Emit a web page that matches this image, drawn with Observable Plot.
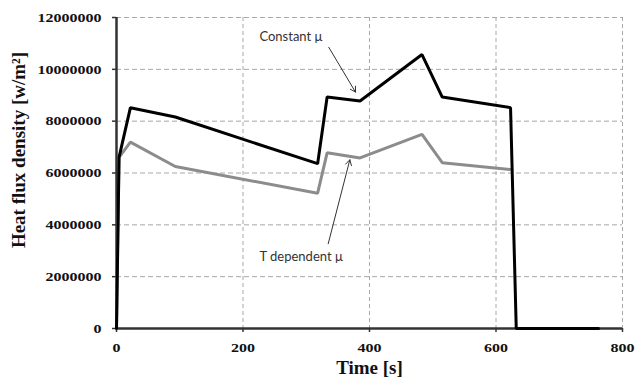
<!DOCTYPE html>
<html>
<head>
<meta charset="utf-8">
<script src="https://cdn.jsdelivr.net/npm/d3@7"></script>
<script src="https://cdn.jsdelivr.net/npm/@observablehq/plot@0.6"></script>
<style>
  html, body { margin: 0; padding: 0; background: #fff; }
  #chart { width: 636px; height: 378px; }
</style>
</head>
<body>
<div id="chart"></div>
<script>
// ---- data ----
const constantTime  = [0, 4, 22, 93, 318, 333, 385, 483, 515, 623, 632, 762];
const constantValue = [0, 6600000, 8520000, 8160000, 6360000, 8930000, 8780000, 10570000, 8930000, 8520000, 0, 0];

const tdepTime  = [0, 4, 22, 93, 318, 333, 385, 483, 515, 625];
const tdepValue = [0, 6600000, 7190000, 6250000, 5220000, 6780000, 6580000, 7490000, 6400000, 6130000];

const xTicks = [0, 200, 400, 600, 800];
const yTicks = [0, 2000000, 4000000, 6000000, 8000000, 10000000, 12000000];

const annotLabels = ["Constant μ", "T dependent μ"];
const annotTextX = [226, 226];
const annotTextY = [11270000, 2750000];
const arrowX1 = [335.6, 334.7];
const arrowY1 = [10850000, 3270000];
const arrowX2 = [377.9, 368.9];
const arrowY2 = [9120000, 6510000];

const xLabel = "Time [s]";
const yLabel = "Heat flux density [w/m²]";

// ---- build tables ----
const constantData = constantTime.map((t, i) => ({t, v: constantValue[i]}));
const tdepData = tdepTime.map((t, i) => ({t, v: tdepValue[i]}));
const annots = annotLabels.map((label, i) => ({label, x: annotTextX[i], y: annotTextY[i]}));
const arrows = arrowX1.map((x1, i) => ({x1, y1: arrowY1[i], x2: arrowX2[i], y2: arrowY2[i]}));

const serif = "'Liberation Serif', 'Times New Roman', serif";

const chart = Plot.plot({
  width: 636,
  height: 378,
  marginLeft: 116,
  marginRight: 14,
  marginTop: 17,
  marginBottom: 50,
  style: { fontFamily: serif, background: "#fff" },
  x: { domain: [0, 800], ticks: xTicks },
  y: { domain: [0, 12000000], ticks: yTicks, tickFormat: d3.format("d") },
  marks: [
    // dashed grid
    Plot.ruleY(yTicks.filter(d => d > 0), {stroke: "#a8a8a8", strokeWidth: 1, strokeDasharray: "5,3"}),
    Plot.ruleX(xTicks.filter(d => d > 0), {stroke: "#a8a8a8", strokeWidth: 1, strokeDasharray: "4,3"}),
    // axes
    Plot.axisY({ticks: yTicks, tickFormat: d3.format("d"), tickSize: 4, tickPadding: 11, fontSize: 13, fontWeight: "bold", label: null, stroke: "#333", strokeWidth: 1.5, color: "#111"}),
    Plot.axisX({ticks: xTicks, tickSize: 4, tickPadding: 10, fontSize: 13, fontWeight: "bold", label: null, stroke: "#333", strokeWidth: 1.5, color: "#111"}),
    Plot.ruleX([0], {stroke: "#333", strokeWidth: 2.5}),
    Plot.ruleY([0], {stroke: "#333", strokeWidth: 2.5}),
    // series
    Plot.line(tdepData, {x: "t", y: "v", stroke: "#8c8c8c", strokeWidth: 3, strokeLinejoin: "miter"}),
    Plot.line(constantData, {x: "t", y: "v", stroke: "#000", strokeWidth: 3, strokeLinejoin: "miter"}),
    // annotations
    Plot.arrow(arrows, {x1: "x1", y1: "y1", x2: "x2", y2: "y2", stroke: "#333", strokeWidth: 1, headLength: 9, bend: 0}),
    Plot.text(annots, {x: "x", y: "y", text: "label", textAnchor: "start", fontFamily: "Lato, 'Liberation Sans', sans-serif", fontSize: 13, fill: "#333"}),
    // axis titles
    Plot.text([xLabel], {frameAnchor: "bottom", dy: 39, textAnchor: "middle", lineAnchor: "middle", fontSize: 19, fontWeight: "bold", fill: "#111"}),
    Plot.text([yLabel], {frameAnchor: "left", dx: -98, dy: -23, rotate: -90, textAnchor: "middle", lineAnchor: "middle", fontSize: 19, fontWeight: "bold", fill: "#111"})
  ]
});

// stretch tick labels horizontally to match the reference look
d3.select(chart).selectAll('g[aria-label="y-axis tick label"] text, g[aria-label="x-axis tick label"] text')
  .each(function() {
    const s = this.textContent;
    d3.select(this).attr("textLength", s.length * 8).attr("lengthAdjust", "spacingAndGlyphs");
  });

document.getElementById("chart").appendChild(chart);
</script>
</body>
</html>
